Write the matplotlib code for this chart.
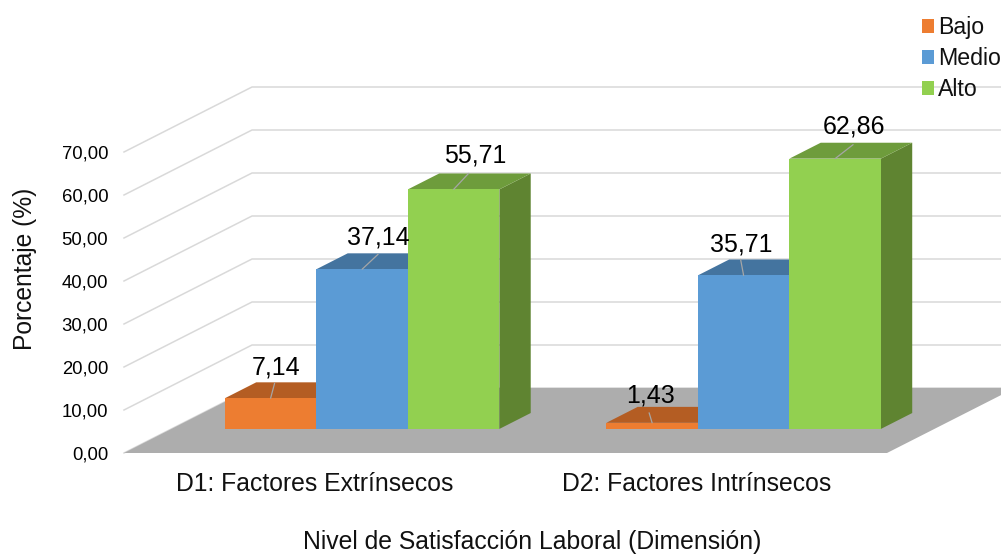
import matplotlib
matplotlib.use("Agg")
import matplotlib.pyplot as plt
from matplotlib.patches import Polygon, Patch
from matplotlib.transforms import ScaledTranslation

plt.rcParams['font.family'] = ['Liberation Sans', 'DejaVu Sans']

categories = ["D1: Factores Extrínsecos", "D2: Factores Intrínsecos"]
series = ["Bajo", "Medio", "Alto"]
bajo = [7.14, 1.43]
medio = [37.14, 35.71]
alto = [55.71, 62.86]
values = [bajo, medio, alto]
yticks = [0, 10, 20, 30, 40, 50, 60, 70]
xlabel = "Nivel de Satisfacción Laboral (Dimensión)"
ylabel = "Porcentaje (%)"

# styles
front = ["#ED7D31", "#5B9BD5", "#92D050"]
top = ["#B45D23", "#44749F", "#6E9C3C"]
side = ["#8E4A1D", "#375E81", "#5F8431"]
GRID = "#D9D9D9"
FLOOR = "#ADADAD"
W, H = 1001, 554
X0, Y0 = 124.0, 453.0      # pixel of origin
PX_CAT = 381.5             # pixels per category
PX_VAL = 4.3               # pixels per percent
DEPTH_PX = (128.0, 65.0)   # oblique depth vector
DX = DEPTH_PX[0] / PX_CAT
DY = DEPTH_PX[1] / PX_VAL
BAR_W = 91.5 / PX_CAT
D0, D1 = 0.37, 0.615       # bar depth range
# label offsets in px (leader end, text centre), relative to top-front centre
leader = [[(4, 15), (-3, 10)], [(16, 15), (-3, 16)], [(15, 16), (18, 14)]]
label = [[(5, 31), (-2, 27)], [(16, 32), (-2.5, 31)], [(22, 34), (19, 32)]]

def proj(x, v, d):
    return (x + d * DX, v + d * DY)

fig = plt.figure(figsize=(W / 100, H / 100), dpi=100)
ax = fig.add_axes([X0 / W, (H - Y0) / H, (W - X0) / W, Y0 / H])
ax.set_xlim(0, (W - X0) / PX_CAT)
ax.set_ylim(0, Y0 / PX_VAL)
for s in ax.spines.values():
    s.set_visible(False)
ax.patch.set_alpha(0)

ax.set_yticks(yticks)
ax.set_yticklabels([f"{t:.2f}".replace(".", ",") for t in yticks], fontsize=13.3, color="#000000")
shift = ScaledTranslation(0, 1.2 / 100, fig.dpi_scale_trans)
for lab in ax.get_yticklabels():
    lab.set_transform(lab.get_transform() + shift)
ax.set_xticks([0.5, 1.5])
ax.set_xticklabels(categories, fontsize=17.85, color="#111111")
ax.tick_params(axis="both", length=0)
ax.tick_params(axis="y", pad=11.4)
ax.tick_params(axis="x", pad=14)
ax.set_xlabel(xlabel, fontsize=17.85, color="#111111", labelpad=24.2, x=(532 - X0) / (W - X0))
ax.set_ylabel(ylabel, fontsize=17.7, color="#111111", labelpad=17.5, y=(Y0 - 269) / Y0)

def poly(pts, color, z, ec=None):
    ax.add_patch(Polygon(pts, closed=True, facecolor=color, edgecolor=ec or "none",
                         linewidth=0, zorder=z, clip_on=False))

# walls grid
for t in yticks:
    a = proj(0, t, 0)
    b = proj(0, t, 1)
    c = proj(2, t, 1)
    ax.plot([a[0], b[0], c[0]], [a[1], b[1], c[1]], color=GRID, lw=1.1, zorder=1,
            solid_joinstyle="miter", clip_on=False)

# floor
poly([proj(0, 0, 0), proj(2, 0, 0), proj(2, 0, 1), proj(0, 0, 1)], FLOOR, 2)

# bars
z = 3
for c in range(len(categories)):
    for j, vals in enumerate(values):
        v = vals[c]
        x0 = c + 0.5 + (j - 1.5) * BAR_W
        x1 = x0 + BAR_W
        poly([proj(x1, 0, D0), proj(x1, 0, D1), proj(x1, v, D1), proj(x1, v, D0)], side[j], z)
        poly([proj(x0, v, D0), proj(x1, v, D0), proj(x1, v, D1), proj(x0, v, D1)], top[j], z + 0.1)
        poly([proj(x0, 0, D0), proj(x1, 0, D0), proj(x1, v, D0), proj(x0, v, D0)], front[j], z + 0.2)
        z += 1

# data labels and leaders
for c in range(len(categories)):
    for j, vals in enumerate(values):
        v = vals[c]
        xc = c + 0.5 + (j - 1) * BAR_W
        p = proj(xc, v, D0)
        lx, ly = leader[j][c]
        tx, ty = label[j][c]
        ax.annotate("", xy=p, xytext=(lx * 0.72, ly * 0.72), textcoords="offset points",
                    arrowprops=dict(arrowstyle="-", color="#A6A6A6", lw=0.9, shrinkA=0, shrinkB=0),
                    zorder=50, annotation_clip=False)
        ax.annotate(f"{v:.2f}".replace(".", ","), xy=p, xytext=(tx * 0.72, ty * 0.72),
                    textcoords="offset points", ha="center", va="center", fontsize=18,
                    color="#000000", zorder=51, annotation_clip=False)

# legend
handles = [Patch(facecolor=f, edgecolor="none", label=s) for f, s in zip(front, series)]
fig.legend(handles=handles, loc="upper right", bbox_to_anchor=(1.0, 1 - 16 / H), frameon=False,
           fontsize=16.7, handlelength=0.53, handleheight=0.53, handletextpad=0.16,
           labelspacing=0.345, borderpad=0.0, borderaxespad=0.0, labelcolor="#111111")

fig.savefig("out.png", dpi=100)
